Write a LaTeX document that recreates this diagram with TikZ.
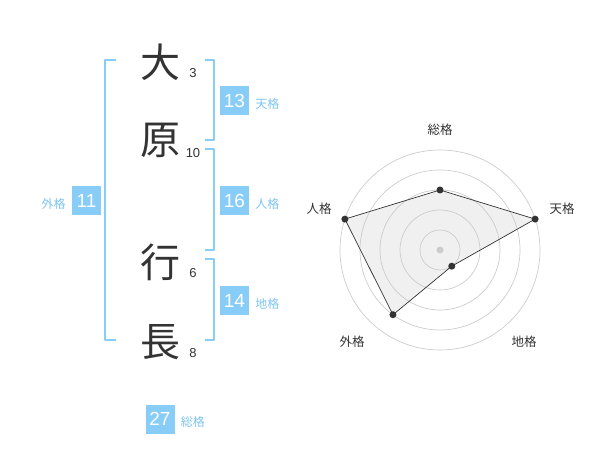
\documentclass[tikz,border=0pt]{standalone}
\usepackage{fontspec}
\setmainfont{Liberation Sans}
\newfontfamily\cjk{Noto Sans CJK JP}
\usetikzlibrary{positioning}
\definecolor{kaku}{HTML}{88CCF8}
\definecolor{kakutxt}{HTML}{7CC4F2}
\definecolor{sumi}{HTML}{333333}
\definecolor{ring}{HTML}{CCCCCC}
\definecolor{area}{HTML}{F0F0F0}
\begin{document}
\begin{tikzpicture}[x=1pt,y=-1pt,line join=round,line cap=round]
	\tikzset{
		kanji/.style={font=\cjk\fontsize{40}{40}\selectfont,text=sumi,inner sep=0pt},
		kakusu/.style={font=\fontsize{13}{13}\selectfont,text=sumi,inner sep=0pt},
		kakubox/.style={fill=kaku,text=white,minimum size=29pt,inner sep=0pt,font=\fontsize{19}{19}\selectfont},
		kakuname/.style={font=\cjk\fontsize{12}{12}\selectfont,text=kakutxt,inner sep=0pt},
		bracket/.style={draw=kaku,line width=2pt,line cap=butt},
		axisname/.style={font=\cjk\fontsize{12.5}{12.5}\selectfont,text=sumi,inner sep=0pt},
		dot/.style={fill=sumi}
	}
	\useasboundingbox (0,0) rectangle (600,470);
	% name
	\node[kanji] (dai) at (160,62) {大};
	\node[kanji] (hara) at (160,140) {原};
	\node[kanji] (gyo) at (160,262) {行};
	\node[kanji] (cho) at (160,342) {長};
	\node[kakusu] (s-dai) at (193,73) {3};
	\node[kakusu] (s-hara) at (193,153) {10};
	\node[kakusu] (s-gyo) at (193,273) {6};
	\node[kakusu] (s-cho) at (193,353) {8};
	% brackets
	\draw[bracket] (116,60) -| (105,340) -- (116,340);
	\draw[bracket] (205,60) -| (214,140) -- (205,140);
	\draw[bracket] (205,149) -| (214,250) -- (205,250);
	\draw[bracket] (205,259) -| (214,340) -- (205,340);
	% kaku
	\node[kakubox] (ten) at (234.5,100.5) {13};
	\node[kakuname,right=6pt of ten,yshift=-3pt] (l-ten) {天格};
	\node[kakubox] (jin) at (234.5,200.5) {16};
	\node[kakuname,right=6pt of jin,yshift=-3pt] (l-jin) {人格};
	\node[kakubox] (chi) at (234.5,300.5) {14};
	\node[kakuname,right=6pt of chi,yshift=-3pt] (l-chi) {地格};
	\node[kakubox] (gai) at (86.5,200.5) {11};
	\node[kakuname,left=6pt of gai,yshift=-3pt] (l-gai) {外格};
	\node[kakubox] (sou) at (160,419) {27};
	\node[kakuname,right=6pt of sou,yshift=-3pt] (l-sou) {総格};
	% radar
	\begin{scope}[shift={(440,250)},yscale=-1]
		\coordinate (p-sou) at (90:60);
		\coordinate (p-ten) at (18:100);
		\coordinate (p-chi) at (-54:20);
		\coordinate (p-gai) at (-126:80);
		\coordinate (p-jin) at (162:100);
		\fill[area] (p-sou)--(p-ten)--(p-chi)--(p-gai)--(p-jin)--cycle;
		\foreach \r in {20,40,60,80,100}
			\draw[ring,line width=0.7pt] (0,0) circle(\r);
		\draw[sumi,line width=0.7pt] (p-sou)--(p-ten)--(p-chi)--(p-gai)--(p-jin)--cycle;
		\foreach \p in {sou,ten,chi,gai,jin}
			\fill[dot] (p-\p) circle(3.5);
		\fill[ring] (0,0) circle(3.5);
		\node[axisname] (n-sou) at (0,120) {総格};
		\node[axisname] (n-ten) at (122,41) {天格};
		\node[axisname] (n-chi) at (84,-92) {地格};
		\node[axisname] (n-gai) at (-88,-92) {外格};
		\node[axisname] (n-jin) at (-121,41) {人格};
	\end{scope}
\end{tikzpicture}
\end{document}
